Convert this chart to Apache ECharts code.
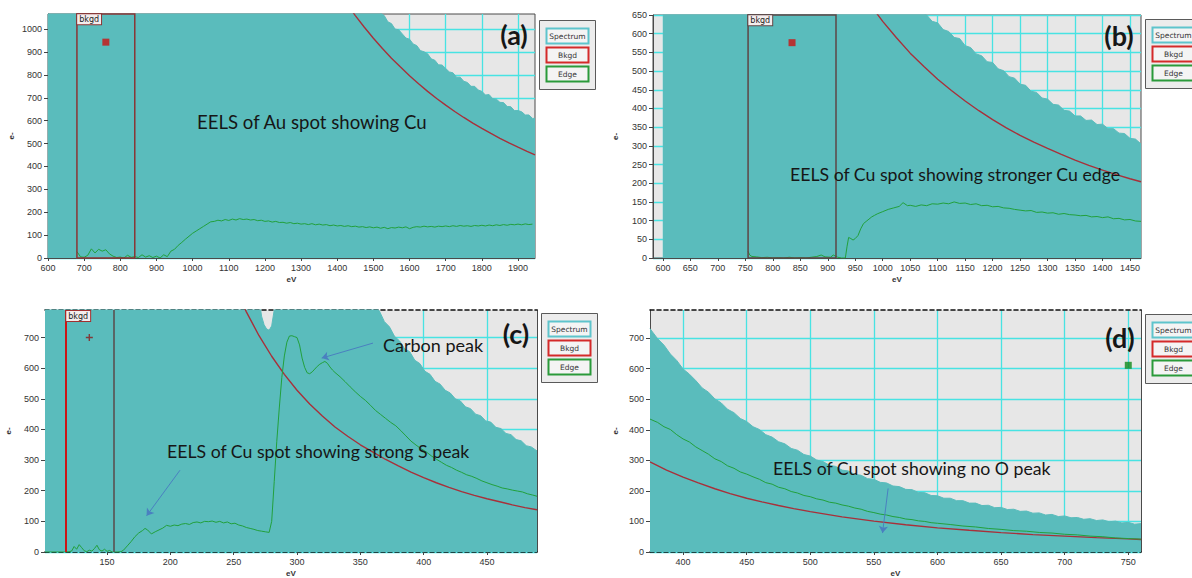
<!DOCTYPE html>
<html>
<head>
<meta charset="utf-8">
<script src="https://cdn.jsdelivr.net/npm/echarts@6/dist/echarts.min.js"></script>
<style>
  html, body { margin: 0; padding: 0; background: #ffffff; }
  #chart { width: 1192px; height: 578px; }
</style>
</head>
<body>
<div id="chart"></div>
<script>
// ---------- (a) EELS of Au spot ----------
const specA = [[600,9400],[700,6600],[800,4850],[900,3700],[1000,2900],[1100,2330],[1200,1900],[1300,1590],[1400,1340],[1450,1235],
  [1480,1144],[1490,1117],[1500,1106],[1510,1079],[1520,1070],[1530,1059],[1540,1032],[1550,1024],[1560,1000],[1570,997],[1580,979],
  [1590,961],[1600,956],[1610,935],[1620,928],[1630,906],[1640,901],[1650,892],[1660,870],[1670,864],[1680,844],[1690,843],[1700,828],
  [1710,813],[1720,809],[1730,790],[1740,790],[1750,772],[1760,767],[1770,750],[1780,750],[1790,734],[1800,728],[1810,712],[1820,714],
  [1830,696],[1840,694],[1850,680],[1860,679],[1870,662],[1880,661],[1890,644],[1900,644],[1910,639],[1920,625],[1930,625],[1940,610],[1947,610]];
const bkgdA = [[680,9520],[800,5950],[1000,3110],[1200,1834],[1300,1453],[1400,1173],[1425,1114],[1450,1059],[1475,1008],[1500,960],
  [1525,915],[1550,873],[1575,834],[1600,796],[1625,761],[1650,728],[1675,697],[1700,668],[1725,640],[1750,614],[1775,589],[1800,566],
  [1825,544],[1850,523],[1875,503],[1900,484],[1925,466],[1947,451]];
const edgeA = [[680,28],[690,5],[700,3],[710,12],[720,40],[730,22],[740,38],[750,30],[760,36],[770,18],[780,8],[790,2],[800,4],[810,0],
  [820,12],[830,3],[840,6],[850,2],[860,14],[870,4],[880,10],[890,2],[900,8],[910,0],[920,14],[930,6],[940,30],[950,38],[960,55],[970,68],
  [980,82],[990,95],[1000,108],[1010,118],[1020,128],[1030,138],[1040,148],[1050,158],[1060,160],[1070,165],[1080,162],[1090,168],
  [1100,164],[1110,170],[1120,166],[1130,172],[1140,168],[1150,170],[1160,166],[1170,168],[1180,163],[1190,165],[1200,160],[1210,162],
  [1220,157],[1230,160],[1240,155],[1250,156],[1260,152],[1270,155],[1280,150],[1290,152],[1300,148],[1310,150],[1320,146],[1330,150],
  [1340,145],[1350,148],[1360,144],[1370,146],[1380,141],[1390,144],[1400,140],[1410,142],[1420,138],[1430,141],[1440,137],[1450,139],
  [1460,135],[1470,137],[1480,133],[1490,136],[1500,132],[1510,135],[1520,130],[1530,134],[1540,128],[1550,133],[1560,131],[1570,135],
  [1580,132],[1590,136],[1600,128],[1610,134],[1620,137],[1630,135],[1640,139],[1650,136],[1660,138],[1670,135],[1680,139],[1690,137],
  [1700,140],[1710,137],[1720,141],[1730,138],[1740,142],[1750,139],[1760,141],[1770,138],[1780,142],[1790,140],[1800,143],[1810,140],
  [1820,144],[1830,141],[1840,145],[1850,142],[1860,146],[1870,143],[1880,147],[1890,145],[1900,148],[1910,145],[1920,149],[1930,146],[1940,148]];
const windowA = [680, 840];
const markerA = [760, 943];
const xTicksA = [600,700,800,900,1000,1100,1200,1300,1400,1500,1600,1700,1800,1900];
const yTicksA = [0,100,200,300,400,500,600,700,800,900,1000];

// ---------- (b) EELS of Cu spot, stronger Cu edge ----------
const specB = [[600,2650],[700,1830],[800,1330],[900,1000],[1000,776],[1040,705],[1060,675],[1070,660],
  [1080,650],[1090,633],[1100,629],[1110,611],[1120,606],[1130,590],[1140,587],[1150,568],[1160,563],[1170,546],[1180,541],[1190,525],
  [1200,523],[1210,506],[1220,501],[1230,485],[1240,481],[1250,465],[1260,462],[1270,446],[1280,443],[1290,428],[1300,425],[1310,411],
  [1320,409],[1330,395],[1340,393],[1350,380],[1360,380],[1370,368],[1380,369],[1390,357],[1400,358],[1410,346],[1420,346],[1430,334],
  [1440,333],[1450,320],[1460,318],[1470,305]];
const bkgdB = [[755,1446],[800,1220],[850,1020],[900,863],[950,736],[975,682],[1000,633],[1025,589],[1050,548],[1075,512],[1100,478],
  [1125,448],[1150,420],[1175,394],[1200,370],[1225,348],[1250,328],[1275,310],[1300,293],[1325,277],[1350,262],[1375,248],[1400,235],
  [1425,223],[1450,212],[1470,204]];
const edgeB = [[755,18],[758,8],[762,4],[770,3],[780,1],[790,2],[800,0],[810,1],[820,0],[830,2],[840,0],[850,1],[860,0],[870,2],[880,4],
  [888,8],[895,3],[905,2],[910,8],[918,2],[925,0],[932,0],[935,30],[938,55],[942,52],[946,48],[950,52],[955,60],[960,78],[965,92],[970,98],
  [975,104],[980,110],[985,114],[990,118],[1000,124],[1010,130],[1020,134],[1030,138],[1037,148],[1045,140],[1050,141],[1060,138],
  [1070,142],[1080,140],[1090,145],[1100,144],[1110,147],[1120,145],[1130,150],[1140,146],[1150,147],[1160,143],[1170,145],[1180,140],
  [1190,141],[1200,137],[1210,138],[1220,134],[1230,133],[1240,130],[1250,128],[1260,126],[1270,127],[1280,122],[1290,123],[1300,120],
  [1310,121],[1320,117],[1330,119],[1340,116],[1350,115],[1360,113],[1370,114],[1380,110],[1390,111],[1400,108],[1410,110],[1420,105],
  [1430,106],[1440,102],[1450,103],[1460,99],[1470,98]];
const windowB = [755, 915];
const markerB = [835, 576];
const xTicksB = [600,650,700,750,800,850,900,950,1000,1050,1100,1150,1200,1250,1300,1350,1400,1450];
const yTicksB = [0,50,100,150,200,250,300,350,400,450,500,550,600,650];

// ---------- (c) EELS of Cu spot, strong S peak ----------
const specC = [[101,9000],[150,5000],[200,2500],[250,1300],[266,1000],[270,830],[272,770],[274,742],[276,728],[278,724],[280,738],
  [282,790],[284,900],[290,1350],[300,1250],[320,1080],[340,950],[355,860],[361,805],
  [365,787],[369,752],[373,735],[377,704],[381,689],[385,663],[389,654],[393,626],[397,615],[401,590],[405,580],[409,557],[413,548],
  [417,528],[421,519],[425,500],[429,493],[433,474],[437,468],[441,450],[445,445],[449,428],[453,424],[457,407],[461,403],[465,387],
  [469,383],[473,367],[477,363],[481,347],[485,343],[489.5,330]];
const bkgdC = [[117,7100],[150,3577],[200,1617],[230,1100],[250,874],[260,784],[270,706],[280,639],[290,580],[300,528],[310,483],
  [320,444],[330,408],[340,378],[350,350],[360,326],[370,302],[380,281],[390,261],[400,243],[410,226],[420,211],[430,197],[440,185],
  [450,174],[460,164],[470,154],[480,145],[489.5,138]];
const edgeC = [[101,0],[110,0],[117,0],[120,1],[122,3],[124,18],[126,9],[128,24],[130,14],[132,4],[134,1],[136,6],[138,3],[140,11],
  [142,22],[144,7],[146,3],[148,9],[150,2],[152,5],[154,0],[158,0],[161,1],[163,6],[166,20],[169,34],[172,50],[175,62],[178,70],[180,77],
  [182,72],[185,59],[188,66],[191,72],[194,78],[197,87],[200,84],[203,88],[206,86],[209,91],[212,93],[215,90],[218,96],[221,98],[224,95],
  [227,100],[230,99],[233,101],[236,97],[239,100],[242,95],[245,98],[248,92],[251,94],[254,88],[257,85],[260,80],[263,77],[266,74],
  [269,70],[272,68],[275,66],[278,64],[280,100],[282,230],[284,360],[286,470],[288,570],[290,640],[292,685],[294,705],[296,706],
  [298,703],[300,700],[302,676],[304,633],[306,603],[308,585],[310,582],[312,588],[314,597],[316,606],[318,613],[320,618],[322,622],
  [324,616],[326,604],[328,594],[330,586],[334,572],[338,556],[342,539],[346,523],[350,508],[354,495],[358,479],[362,462],[366,449],
  [370,436],[374,423],[378,412],[382,396],[386,379],[390,362],[394,349],[398,337],[402,327],[406,314],[410,303],[414,293],[418,283],
  [422,276],[426,267],[430,260],[434,252],[438,247],[442,240],[446,232],[450,226],[454,220],[458,215],[462,209],[466,206],[470,202],
  [474,199],[478,196],[482,190],[486,186],[489.5,182]];
const windowC = [117, 155];
const markerC = [136, 700];
const xTicksC = [150,200,250,300,350,400,450];
const yTicksC = [0,100,200,300,400,500,600,700];

// ---------- (d) EELS of Cu spot, no O peak ----------
const specD = [[374,731],[380,698],[385,677],[390,648],[395,627],[400,599],[405,582],[410,561],[415,537],[420,523],[425,501],[430,488],
  [435,467],[440,456],[445,437],[450,427],[455,410],[460,401],[465,384],[470,376],[475,361],[480,354],[485,339],[490,333],[495,319],
  [500,314],[505,301],[510,296],[515,284],[520,280],[525,268],[530,265],[535,254],[540,251],[545,240],[550,238],[555,228],[560,226],
  [565,216],[570,214],[575,205],[580,204],[585,195],[590,194],[595,185],[600,184],[605,176],[610,176],[615,168],[620,168],[625,160],
  [630,160],[635,152],[640,153],[645,145],[650,146],[655,139],[660,140],[665,133],[670,134],[675,127],[680,128],[685,121],[690,123],
  [695,116],[700,118],[705,112],[710,113],[715,107],[720,109],[725,103],[730,105],[735,99],[740,101],[745,95],[750,97],[755,91],[760,93]];
const bkgdD = [[374,295],[387,268],[400,245],[412,226],[425,207],[437,191],[450,176],[462,164],[475,152],[487,142],[500,132],[525,115],
  [550,101],[575,89],[600,79],[625,71],[650,63.5],[675,57],[700,52],[725,47],[750,43],[760,41]];
const edgeD = [[374,435],[380,424],[385,410],[390,401],[395,384],[400,370],[405,360],[410,344],[415,332],[420,320],[425,305],[430,296],
  [435,282],[440,274],[445,262],[450,255],[455,246],[460,238],[465,227],[470,222],[475,212],[480,207],[485,198],[490,193],[495,185],
  [500,181],[505,174],[510,170],[515,163],[520,160],[525,154],[530,150],[535,144],[540,140],[545,133],[550,129],[555,124],[560,121],
  [565,116],[570,113],[575,108],[580,106],[585,102],[590,100],[595,96],[600,94],[610,90],[620,85],[630,82],[640,77],[650,74],[660,70],
  [670,68],[680,64],[690,62],[700,58],[710,56],[720,52],[730,50],[740,46],[750,44],[760,42]];
const markerD = [750, 611];
const xTicksD = [400,450,500,550,600,650,700,750];
const yTicksD = [0,100,200,300,400,500,600,700];

// ---------- annotation arrows (start / head, in eV and counts) ----------
const carbonArrow = [[360, 682], [319.5, 633]];
const sPeakArrow = [[207.6, 267], [181.2, 118]];
const noOArrow = [[561.2, 208], [556.8, 62]];

// ---------- styling ----------
const TEAL = '#5abcbc';
const PLOT_BG = '#e7e7e7';
const CYAN = '#48e3e3';
const BKGD_RED = '#a8303a';
const EDGE_GREEN = '#22a03c';
const ARROW_BLUE = '#4a80c0';
const TICK_FONT = 'Liberation Sans';
const NOTE_FONT = 'Lato';
const plainNumber = v => String(v);

const option = { animation: false, grid: [], xAxis: [], yAxis: [], series: [], graphic: [] };

function addPanel(p) {
  const gi = option.grid.length;
  option.grid.push({
    left: p.box[0], top: p.box[1], width: p.box[2], height: p.box[3],
    show: true, backgroundColor: PLOT_BG,
    borderColor: '#4a4a4a', borderWidth: p.dashed ? 0 : 1
  });
  const frameLine = { color: '#4a4a4a', width: 1 };
  const dashLine = { color: '#111111', width: 1.6, type: [4, 3] };
  const xi = option.xAxis.length;
  option.xAxis.push({
    gridIndex: gi, type: 'value', min: p.xMin, max: p.xMax, position: 'bottom',
    name: 'eV', nameLocation: 'middle', nameGap: 17,
    nameTextStyle: { fontSize: 8, fontWeight: 'bold', color: '#333', fontFamily: TICK_FONT },
    axisLine: { show: true, onZero: false, lineStyle: p.dashed ? dashLine : frameLine },
    axisTick: { show: true, customValues: p.xTicks, length: 3, lineStyle: { color: '#444' } },
    axisLabel: { customValues: p.xTicks, formatter: plainNumber, fontSize: 9, color: '#333', fontFamily: TICK_FONT, margin: 5 },
    splitLine: { show: true, lineStyle: { color: CYAN, width: 1.3 } }
  });
  const yi = option.yAxis.length;
  option.yAxis.push({
    gridIndex: gi, type: 'value', min: 0, max: p.yMax, position: 'left',
    name: 'e-', nameLocation: 'middle', nameGap: p.yNameGap,
    nameTextStyle: { fontSize: 8, fontWeight: 'bold', color: '#333', fontFamily: TICK_FONT },
    axisLine: { show: true, onZero: false, lineStyle: frameLine },
    axisTick: { show: true, customValues: p.yTicks, length: 4, lineStyle: { color: '#444' } },
    axisLabel: { customValues: p.yTicks, formatter: plainNumber, fontSize: 9, color: '#333', fontFamily: TICK_FONT, margin: 6 },
    splitLine: { show: true, lineStyle: { color: CYAN, width: 1.3 } }
  });
  if (p.dashed) {
    // dashed top edge and solid right edge of the frame
    option.xAxis.push({
      gridIndex: gi, type: 'value', min: p.xMin, max: p.xMax, position: 'top',
      axisLine: { show: true, onZero: false, lineStyle: dashLine },
      axisTick: { show: false }, axisLabel: { show: false }, splitLine: { show: false }
    });
    option.yAxis.push({
      gridIndex: gi, type: 'value', min: 0, max: p.yMax, position: 'right',
      axisLine: { show: true, onZero: false, lineStyle: frameLine },
      axisTick: { show: false }, axisLabel: { show: false }, splitLine: { show: false }
    });
  }

  // spectrum as a filled area
  option.series.push({
    type: 'line', xAxisIndex: xi, yAxisIndex: yi, data: p.spec, symbol: 'none', silent: true,
    lineStyle: { color: TEAL, width: 1 }, areaStyle: { color: TEAL, opacity: 1 }, z: 2
  });

  // background fit, with the fitting window when there is one
  const bkgdSeries = {
    type: 'line', xAxisIndex: xi, yAxisIndex: yi, data: p.bkgd, symbol: 'none', silent: true,
    lineStyle: { color: BKGD_RED, width: 1.4 }, z: 3
  };
  if (p.win) {
    bkgdSeries.markArea = {
      silent: true, z: 6,
      itemStyle: { color: 'rgba(0,0,0,0)', borderColor: p.winColor, borderWidth: p.winLines ? 0 : 1.5 },
      label: {
        show: true, position: 'insideTopLeft', distance: 1,
        fontSize: 8, fontFamily: 'DejaVu Sans', color: '#222',
        backgroundColor: '#f4eded', borderColor: p.winColor, borderWidth: 1, padding: [1, 2, 1, 2]
      },
      data: [[{ name: 'bkgd', xAxis: p.win[0], yAxis: 0 }, { xAxis: p.win[1], yAxis: p.yMax }]]
    };
    if (p.winLines) {
      bkgdSeries.markLine = {
        silent: true, symbol: 'none', label: { show: false },
        data: [
          { xAxis: p.win[0], lineStyle: { color: '#cc1515', width: 2, type: 'solid' } },
          { xAxis: p.win[1], lineStyle: { color: '#5a4a4a', width: 1.5, type: 'solid' } }
        ]
      };
    }
  }
  option.series.push(bkgdSeries);

  // extracted edge
  const edgeSeries = {
    type: 'line', xAxisIndex: xi, yAxisIndex: yi, data: p.edge, symbol: 'none', silent: true,
    lineStyle: { color: EDGE_GREEN, width: 1 }, z: 4
  };
  if (p.arrows) {
    edgeSeries.markLine = {
      silent: true, symbol: ['none', 'arrow'], symbolSize: 7, label: { show: false },
      lineStyle: { color: ARROW_BLUE, width: 1, type: 'solid' },
      data: p.arrows.map(a => [{ coord: a[0] }, { coord: a[1] }])
    };
  }
  option.series.push(edgeSeries);

  // cursor marker
  option.series.push({
    type: 'scatter', xAxisIndex: xi, yAxisIndex: yi, data: [p.marker], silent: true,
    symbol: p.markerSymbol, symbolSize: p.markerSize, itemStyle: { color: p.markerColor }, z: 7
  });
}

addPanel({ box: [48, 14, 487, 244], xMin: 600, xMax: 1947, yMax: 1066, xTicks: xTicksA, yTicks: yTicksA, yNameGap: 33,
  spec: specA, bkgd: bkgdA, edge: edgeA, win: windowA, winColor: '#8a3535',
  marker: markerA, markerSymbol: 'rect', markerSize: 7, markerColor: '#cc1111' });
addPanel({ box: [653, 15, 488, 243], xMin: 582, xMax: 1470, yMax: 650, xTicks: xTicksB, yTicks: yTicksB, yNameGap: 34,
  spec: specB, bkgd: bkgdB, edge: edgeB, win: windowB, winColor: '#5e4646',
  marker: markerB, markerSymbol: 'rect', markerSize: 7, markerColor: '#cc1111' });
addPanel({ box: [45, 310, 492, 244], xMin: 101, xMax: 489.5, yMax: 790, xTicks: xTicksC, yTicks: yTicksC, yNameGap: 33, dashed: true,
  spec: specC, bkgd: bkgdC, edge: edgeC, win: windowC, winColor: '#a03030', winLines: true,
  arrows: [carbonArrow, sPeakArrow],
  marker: markerC, markerSymbol: 'path://M4,0H6V4H10V6H6V10H4V6H0V4H4Z', markerSize: 7, markerColor: '#8b1a1a' });
addPanel({ box: [650, 310, 491, 244], xMin: 374, xMax: 760, yMax: 792, xTicks: xTicksD, yTicks: yTicksD, yNameGap: 31, dashed: true,
  spec: specD, bkgd: bkgdD, edge: edgeD, win: null,
  arrows: [noOArrow],
  marker: markerD, markerSymbol: 'rect', markerSize: 7, markerColor: '#108a1a' });

// ---------- legend boxes ----------
function legendItem(y, text, color) {
  return {
    type: 'group', x: 7, y: y, children: [
      { type: 'rect', shape: { x: 0, y: 0, width: 42, height: 15 }, style: { fill: '#f4f4f4', stroke: color, lineWidth: 2 } },
      { type: 'text', style: { text: text, x: 21, y: 7.5, textAlign: 'center', textVerticalAlign: 'middle',
        font: '7.5px "DejaVu Sans"', fill: '#333' } }
    ]
  };
}
function legendBox(left, top) {
  return {
    type: 'group', left: left, top: top, children: [
      { type: 'rect', shape: { x: 0, y: 0, width: 56, height: 69 }, style: { fill: '#ececec', stroke: '#5a5a5a', lineWidth: 1 } },
      legendItem(8, 'Spectrum', '#5ec4cc'),
      legendItem(27, 'Bkgd', '#d42a2a'),
      legendItem(46, 'Edge', '#2a9a3a')
    ]
  };
}
option.graphic.push(legendBox(539, 20), legendBox(1145, 19), legendBox(541, 313), legendBox(1145, 314));

// ---------- panel letters and notes ----------
function note(text, x, y, size, bold, align) {
  return { type: 'text', z: 100, style: { text: text, x: x, y: y, textAlign: align || 'left', textVerticalAlign: 'middle',
    font: (bold ? 'bold ' : '') + size + 'px ' + NOTE_FONT, fill: '#161616' } };
}
option.graphic.push(
  note('(a)', 514, 34, 27, true, 'center'),
  note('(b)', 1119, 35, 27, true, 'center'),
  note('(c)', 516, 333, 27, true, 'center'),
  note('(d)', 1120, 337, 27, true, 'center'),
  note('EELS of Au spot showing Cu', 197, 122, 18.6),
  note('EELS of Cu spot showing stronger Cu edge', 790, 174, 17.7),
  note('EELS of Cu spot showing strong S peak', 167, 451, 17.7),
  note('Carbon peak', 383, 345, 18),
  note('EELS of Cu spot showing no O peak', 773, 468, 17.7)
);

const chart = echarts.init(document.getElementById('chart'), null, { renderer: 'svg' });
chart.setOption(option);
</script>
</body>
</html>
